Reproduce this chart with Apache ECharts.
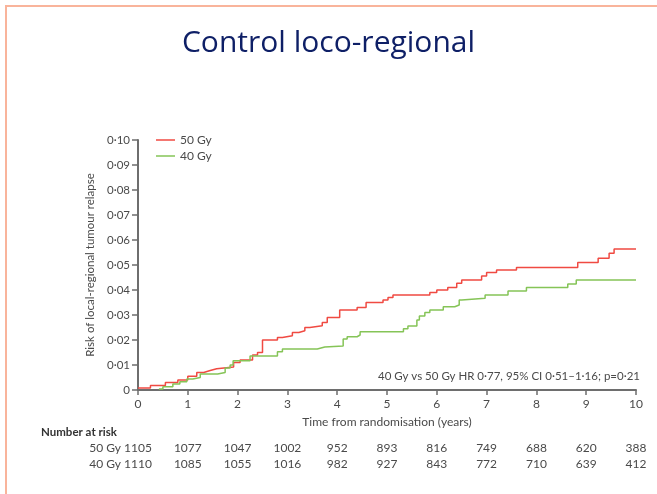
<!DOCTYPE html>
<html>
<head>
<meta charset="utf-8">
<script src="https://cdn.jsdelivr.net/npm/echarts@6/dist/echarts.min.js"></script>
<style>
  html, body { margin: 0; padding: 0; background: #fff; }
  #main { width: 657px; height: 494px; }
</style>
</head>
<body>
<div id="main"></div>
<script>
// 50 Gy cumulative risk: step starts at each time
const time50 = [0, 0.25, 0.55, 0.8, 1.0, 1.18, 1.32, 1.45, 1.58, 1.92, 2.05, 2.3, 2.4, 2.5, 2.8, 2.9, 3.1, 3.23, 3.35, 3.45, 3.7, 3.8, 4.05, 4.4, 4.58, 4.92, 5.02, 5.12, 5.86, 6.0, 6.22, 6.4, 6.5, 6.9, 7.0, 7.2, 7.6, 8.83, 9.24, 9.46, 9.56, 10.0];
const risk50 = [0.0008, 0.0018, 0.003, 0.004, 0.0055, 0.007, 0.0078, 0.0085, 0.0092, 0.011, 0.012, 0.014, 0.015, 0.02, 0.021, 0.0217, 0.023, 0.0237, 0.025, 0.0257, 0.027, 0.029, 0.032, 0.033, 0.035, 0.036, 0.037, 0.038, 0.039, 0.040, 0.041, 0.0427, 0.044, 0.0456, 0.047, 0.048, 0.049, 0.051, 0.0527, 0.0547, 0.0564, 0.0564];

// 40 Gy
const time40 = [0.42, 0.5, 0.7, 0.84, 0.98, 1.1, 1.25, 1.6, 1.75, 1.85, 1.91, 2.25, 2.8, 2.9, 3.6, 3.75, 4.12, 4.2, 4.4, 4.46, 5.33, 5.42, 5.6, 5.65, 5.76, 5.86, 6.13, 6.36, 6.45, 6.5, 6.97, 7.43, 7.8, 8.63, 8.8, 10.0];
const risk40 = [0.0004, 0.0013, 0.0024, 0.0033, 0.0044, 0.005, 0.0064, 0.007, 0.0088, 0.010, 0.0117, 0.0136, 0.0153, 0.0164, 0.0172, 0.0176, 0.0204, 0.0213, 0.022, 0.0233, 0.0245, 0.0256, 0.028, 0.0296, 0.031, 0.032, 0.0333, 0.034, 0.036, 0.0367, 0.038, 0.0396, 0.041, 0.0424, 0.044, 0.044];

// number at risk table
const riskYears = [0, 1, 2, 3, 4, 5, 6, 7, 8, 9, 10];
const atRisk50 = [1105, 1077, 1047, 1002, 952, 893, 816, 749, 688, 620, 388];
const atRisk40 = [1110, 1085, 1055, 1016, 982, 927, 843, 772, 710, 639, 412];

const textColor = '#4a4a4a';
const axisColor = '#6e6e6e';
const font = 'Lato';

function dot(v) {
  if (v === 0) return '0';
  return v.toFixed(2).replace('.', '·');
}

const myChart = echarts.init(document.getElementById('main'));

const option = {
  animation: false,
  textStyle: { fontFamily: font },
  title: {
    text: 'Control loco-regional',
    left: 'center',
    top: 23,
    textStyle: {
      color: '#0e1f66',
      fontSize: 30,
      fontWeight: 'normal',
      fontFamily: 'Open Sans'
    }
  },
  legend: {
    orient: 'vertical',
    left: 151,
    top: 129,
    icon: 'rect',
    itemWidth: 19,
    itemHeight: 1.5,
    itemGap: 4,
    textStyle: { color: textColor, fontSize: 12, fontFamily: font },
    data: ['50 Gy', '40 Gy']
  },
  grid: {
    left: 138,
    top: 140,
    width: 498,
    height: 250
  },
  xAxis: {
    type: 'value',
    min: 0,
    max: 10,
    interval: 1,
    name: 'Time from randomisation (years)',
    nameLocation: 'middle',
    nameGap: 26,
    nameTextStyle: { color: textColor, fontSize: 12, fontFamily: font },
    axisLine: { lineStyle: { color: axisColor, width: 2 } },
    axisTick: { length: 5, lineStyle: { color: axisColor, width: 1.5 } },
    axisLabel: { color: textColor, fontSize: 12, margin: 8 },
    splitLine: { show: false }
  },
  yAxis: {
    type: 'value',
    min: 0,
    max: 0.1,
    interval: 0.01,
    name: 'Risk of local-regional tumour relapse',
    nameLocation: 'middle',
    nameGap: 41,
    nameTextStyle: { color: textColor, fontSize: 11.5, fontFamily: font },
    axisLine: { show: true, lineStyle: { color: axisColor, width: 2 } },
    axisTick: { show: true, length: 6, lineStyle: { color: axisColor, width: 1.5 } },
    axisLabel: { color: textColor, fontSize: 11.5, margin: 8, formatter: dot },
    splitLine: { show: false }
  },
  series: [
    {
      name: '50 Gy',
      type: 'line',
      step: 'end',
      symbol: 'none',
      lineStyle: { color: '#f04a42', width: 1.5 },
      itemStyle: { color: '#f04a42' },
      data: time50.map((t, i) => [t, risk50[i]])
    },
    {
      name: '40 Gy',
      type: 'line',
      step: 'end',
      symbol: 'none',
      lineStyle: { color: '#85c457', width: 1.5 },
      itemStyle: { color: '#85c457' },
      data: time40.map((t, i) => [t, risk40[i]])
    }
  ]
};

myChart.setOption(option);

// extra texts: border, annotation and number-at-risk table
const elements = [
  {
    type: 'polyline',
    shape: { points: [[6, 494], [6, 6], [657, 6]] },
    style: { stroke: '#f9b49b', lineWidth: 2, fill: null }
  },
  {
    type: 'text',
    right: 17,
    top: 370,
    style: {
      text: '40 Gy vs 50 Gy HR 0·77, 95% CI 0·51–1·16; p=0·21',
      fill: textColor,
      font: '11.5px ' + font
    }
  },
  {
    type: 'text',
    left: 41,
    top: 426,
    style: { text: 'Number at risk', fill: '#333', font: 'bold 11.5px ' + font }
  },
  {
    type: 'text',
    x: 121, y: 448,
    style: { text: '50 Gy', fill: textColor, font: '12px ' + font, align: 'right', verticalAlign: 'middle' }
  },
  {
    type: 'text',
    x: 121, y: 464,
    style: { text: '40 Gy', fill: textColor, font: '12px ' + font, align: 'right', verticalAlign: 'middle' }
  }
];

riskYears.forEach((yr, i) => {
  const px = myChart.convertToPixel({ xAxisIndex: 0 }, yr);
  elements.push({
    type: 'text', x: px, y: 448,
    style: { text: String(atRisk50[i]), fill: textColor, font: '12px ' + font, align: 'center', verticalAlign: 'middle' }
  });
  elements.push({
    type: 'text', x: px, y: 464,
    style: { text: String(atRisk40[i]), fill: textColor, font: '12px ' + font, align: 'center', verticalAlign: 'middle' }
  });
});

myChart.setOption({ graphic: { elements: elements } });
</script>
</body>
</html>
